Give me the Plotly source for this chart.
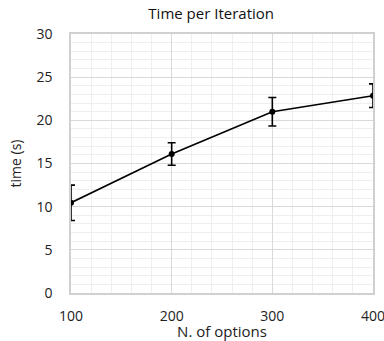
import plotly.graph_objects as go

n_options = [100, 200, 300, 400]
time_s = [10.45, 16.1, 21.0, 22.85]
time_err = [2.05, 1.3, 1.65, 1.37]

FONT = "Open Sans"

fig = go.Figure()
fig.add_trace(go.Scatter(
    x=n_options, y=time_s, mode="lines+markers",
    line=dict(color="black", width=1.7),
    marker=dict(color="black", size=6),
    error_y=dict(type="data", array=time_err, visible=True, color="black", thickness=1.6, width=4),
    cliponaxis=True, showlegend=False,
))

fig.update_layout(
    width=384, height=341,
    margin=dict(l=71, r=11, t=34, b=48),
    paper_bgcolor="white", plot_bgcolor="white",
    font=dict(family=FONT, size=14, color="#222"),
    title=dict(text="Time per Iteration", x=0.55, xanchor="center", y=0.975, yanchor="top",
               font=dict(family=FONT, size=15, color="#111")),
    xaxis=dict(range=[100, 400], dtick=100, tick0=100, showgrid=True, gridcolor="#d9d9d9", gridwidth=1,
               minor=dict(dtick=20, showgrid=True, gridcolor="#efefef", gridwidth=1),
               showline=True, linecolor="#d0d0d0", linewidth=1.5, mirror=True, zeroline=False,
               ticks="", ticklabelstandoff=9, automargin=False, ticklabeloverflow="allow",
               tickfont=dict(family=FONT, size=14, color="#222"),
               title=dict(text="N. of options", standoff=0, font=dict(family=FONT, size=15, color="#222"))),
    yaxis=dict(range=[0, 30], dtick=5, showgrid=True, gridcolor="#d9d9d9", gridwidth=1,
               minor=dict(dtick=1, showgrid=True, gridcolor="#efefef", gridwidth=1),
               showline=True, linecolor="#d0d0d0", linewidth=1.5, mirror=True, zeroline=False,
               ticks="", ticklabelstandoff=14, automargin=False,
               tickfont=dict(family=FONT, size=14, color="#222"),
               title=dict(text="time (s)", standoff=12, font=dict(family=FONT, size=14, color="#222"))),
)

fig.write_html("out.html", config={"displayModeBar": False},
               post_script="document.body.style.margin='0';document.body.style.overflow='hidden';")
